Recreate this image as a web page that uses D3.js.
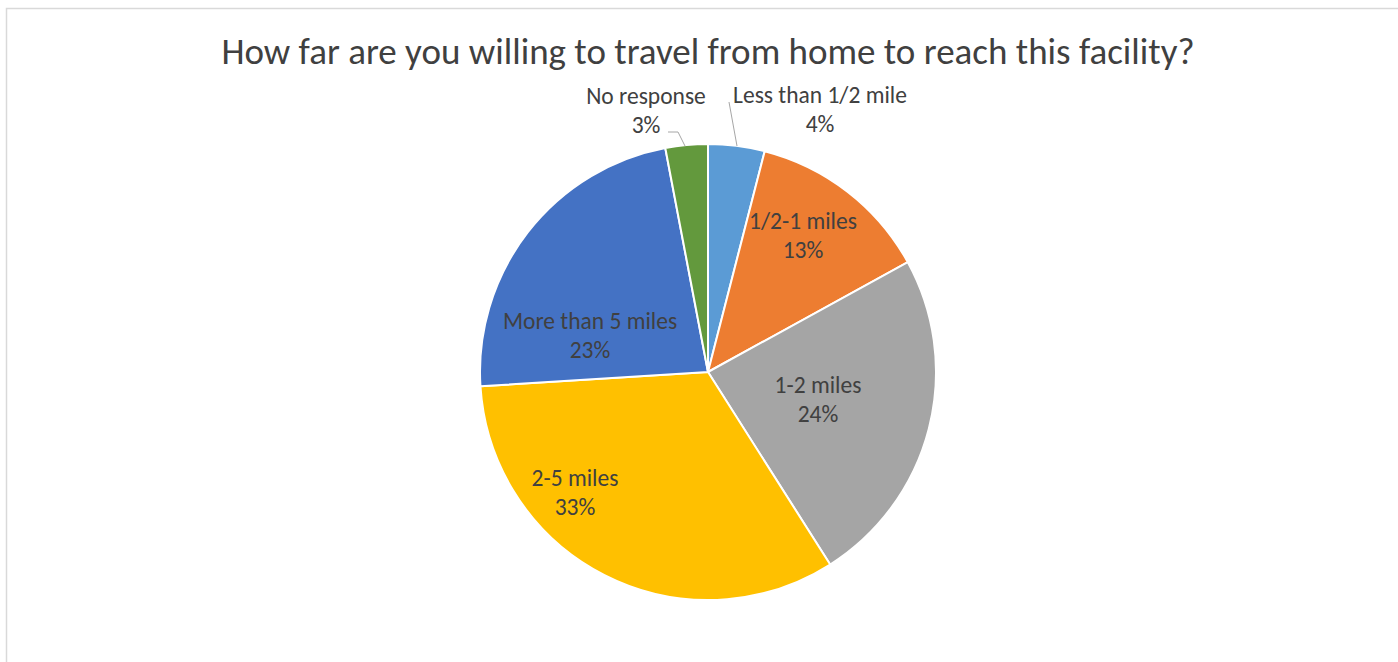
<!DOCTYPE html>
<html>
<head>
<meta charset="utf-8">
<script src="https://cdn.jsdelivr.net/npm/d3@7"></script>
<style>
  html, body { margin: 0; padding: 0; background: #fff; }
  svg { display: block; }
  text { font-family: Carlito, Calibri, Lato, sans-serif; fill: #404040; }
</style>
</head>
<body>
<svg id="chart" width="1398" height="662"></svg>
<script>
// Survey answers: travel distance willing to cover to reach the facility
const categories = ["Less than 1/2 mile", "1/2-1 miles", "1-2 miles", "2-5 miles", "More than 5 miles", "No response"];
const shares = [4, 13, 24, 33, 23, 3];
const colors = ["#5B9BD5", "#ED7D31", "#A5A5A5", "#FFC000", "#4472C4", "#63993D"];
const chartTitle = "How far are you willing to travel from home to reach this facility?";

const W = 1398, H = 662;
const cx = 708, cy = 372, R = 228;

const svg = d3.select("#chart");

// chart area frame
svg.append("rect")
  .attr("x", 6.5).attr("y", 8.5)
  .attr("width", W + 10).attr("height", H + 10)
  .attr("fill", "#fff").attr("stroke", "#d9d9d9").attr("stroke-width", 1.5);

svg.append("text")
  .attr("x", 708).attr("y", 64)
  .attr("text-anchor", "middle")
  .style("font-size", "37px")
  .text(chartTitle);

const data = categories.map((c, i) => ({ name: c, value: shares[i], color: colors[i] }));

const pie = d3.pie().value(d => d.value).sort(null);
const arcs = pie(data);
const arc = d3.arc().innerRadius(0).outerRadius(R);

const g = svg.append("g").attr("transform", `translate(${cx},${cy})`);

g.selectAll("path.slice")
  .data(arcs)
  .join("path")
  .attr("class", "slice")
  .attr("d", arc)
  .attr("fill", d => d.data.color)
  .attr("stroke", "#fff")
  .attr("stroke-width", 2)
  .attr("stroke-linejoin", "round");

// label placement: inside for the large slices, outside with leader lines for the thin ones
const labelSpots = {
  "Less than 1/2 mile": { x: 820, y: 96, line: [[729, 102], [737, 146]] },
  "No response": { x: 646, y: 97, line: [[668, 132], [678, 132], [685, 146]] },
  "1/2-1 miles": { x: 803, y: 222 },
  "1-2 miles": { x: 818, y: 386 },
  "2-5 miles": { x: 575, y: 479 },
  "More than 5 miles": { x: 590, y: 322 }
};

arcs.forEach(a => {
  const spot = labelSpots[a.data.name];
  const x = spot.x, y = spot.y;
  if (spot.line) {
    svg.append("path")
      .attr("d", d3.line()(spot.line))
      .attr("fill", "none")
      .attr("stroke", "#a6a6a6")
      .attr("stroke-width", 1);
  }
  const t = svg.append("text")
    .attr("text-anchor", "middle")
    .style("font-size", "23.5px");
  t.append("tspan").attr("x", x).attr("y", y + 7).text(a.data.name);
  t.append("tspan").attr("x", x).attr("y", y + 36).text(a.data.value + "%");
});
</script>
</body>
</html>
